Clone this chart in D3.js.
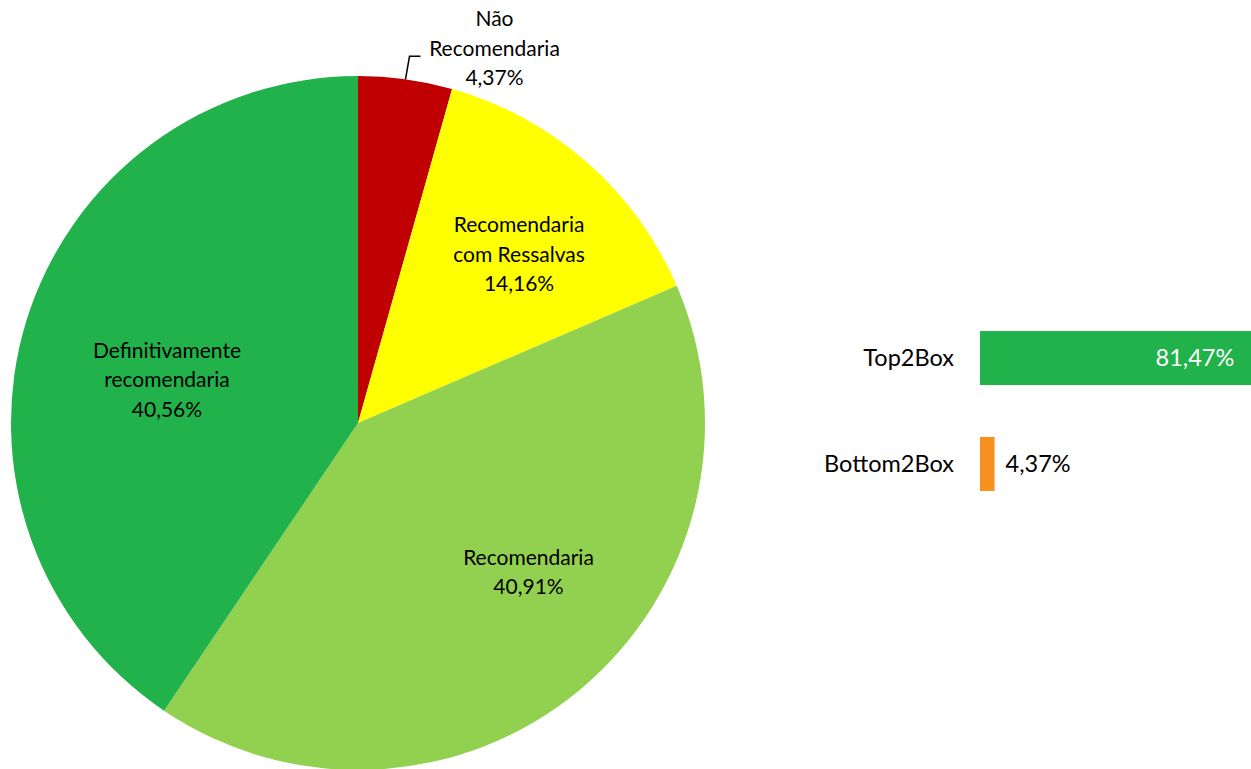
<!DOCTYPE html>
<html>
<head>
<meta charset="utf-8">
<script src="https://cdn.jsdelivr.net/npm/d3@7"></script>
<style>
  html, body { margin: 0; padding: 0; background: #fff; overflow: hidden; }
</style>
</head>
<body>
<div id="chart"></div>
<script>
// pie data (clockwise from 12 o'clock)
const sliceNames = [['Não', 'Recomendaria'], ['Recomendaria', 'com Ressalvas'], ['Recomendaria'], ['Definitivamente', 'recomendaria']];
const sliceValues = [4.37, 14.16, 40.91, 40.56];
const sliceColors = ['#C00000', '#FFFF00', '#92D050', '#21B24B'];
// summary bars
const boxNames = ['Top2Box', 'Bottom2Box'];
const boxValues = [81.47, 4.37];
const boxColors = ['#21B24B', '#F7901E'];

const FONT = 'Lato, "Open Sans", sans-serif';
const W = 1251, H = 769;
const fmt = (v) => d3.format('.2f')(v).replace('.', ',') + '%';

const svg = d3.select('#chart').append('svg').attr('width', W).attr('height', H);

// pie
const cx = 358, cy = 423, R = 347;
const pie = d3.pie().sort(null).value((d) => d)(sliceValues);
const arc = d3.arc().innerRadius(0).outerRadius(R);
const lblArc = d3.arc().innerRadius(R * 0.63).outerRadius(R * 0.63);
const nudge = [[0, 0], [17, -4], [31, -19], [18, 21]]; // excel-like label placement tweaks
const pg = svg.append('g').attr('transform', `translate(${cx},${cy})`);
pg.selectAll('path').data(pie).join('path')
  .attr('d', arc).attr('fill', (d, i) => sliceColors[i]);

const LH = 29.5;
pie.forEach((d, i) => {
  const lines = sliceNames[i].concat([fmt(sliceValues[i])]);
  let x, y;
  if (i === 0) {
    // outside label with leader line
    const a = (d.startAngle + d.endAngle) / 2;
    const px = Math.sin(a) * R, py = -Math.cos(a) * R;
    const ly = py - 23;
    pg.append('polyline')
      .attr('points', `${px},${py} ${px + 4},${ly} ${px + 15},${ly}`)
      .attr('fill', 'none').attr('stroke', '#000').attr('stroke-width', 1.5);
    x = px + 89;
    y = ly - LH - 8;
  } else {
    const c = lblArc.centroid(d);
    x = c[0] + nudge[i][0];
    y = c[1] + nudge[i][1] - (lines.length - 1) * LH / 2;
  }
  const t = pg.append('text').attr('text-anchor', 'middle')
    .attr('font-family', FONT).attr('font-size', 21).attr('fill', '#000');
  lines.forEach((s, k) => {
    t.append('tspan').attr('x', x).attr('y', y + k * LH).attr('dy', '0.35em').text(s);
  });
});

// bars
const bx = d3.scaleLinear().domain([0, 100]).range([980, 980 + 333]);
const by = d3.scaleBand().domain(boxNames).range([304, 518]).paddingInner(0.98).paddingOuter(0.5);
const bh = 54;
const bg = svg.append('g');
boxNames.forEach((n, i) => {
  const yc = by(n) + by.bandwidth() / 2;
  bg.append('rect').attr('x', bx(0)).attr('y', yc - bh / 2)
    .attr('width', bx(boxValues[i]) - bx(0)).attr('height', bh).attr('fill', boxColors[i]);
  bg.append('text').attr('x', 954).attr('y', yc).attr('dy', '0.35em').attr('text-anchor', 'end')
    .attr('font-family', FONT).attr('font-size', 23.5).attr('fill', '#000').text(n);
  const inside = bx(boxValues[i]) - bx(0) > 100;
  bg.append('text')
    .attr('x', inside ? bx(boxValues[i]) - 17 : bx(boxValues[i]) + 11)
    .attr('y', yc).attr('dy', '0.35em').attr('text-anchor', inside ? 'end' : 'start')
    .attr('font-family', FONT).attr('font-size', 23.5).attr('fill', inside ? '#fff' : '#000')
    .text(fmt(boxValues[i]));
});
</script>
</body>
</html>
